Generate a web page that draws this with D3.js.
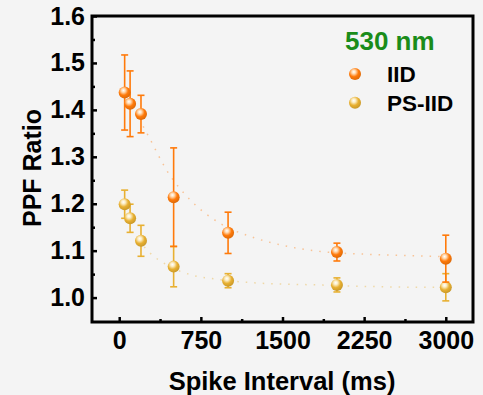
<!DOCTYPE html>
<html>
<head>
<meta charset="utf-8">
<script src="https://cdn.jsdelivr.net/npm/d3@7"></script>
<style>
  body { margin: 0; background: #f4f4f4; }
  svg { display: block; font-family: "Liberation Sans", Arial, sans-serif; font-weight: bold; }
</style>
</head>
<body>
<svg id="chart" width="483" height="395"></svg>
<script>
// data
const intervals = [50, 100, 200, 500, 1000, 2000, 3000]
const iid = [1.437, 1.413, 1.391, 1.214, 1.138, 1.097, 1.083]
const iidErr = [0.08, 0.07, 0.04, 0.105, 0.044, 0.019, 0.05]
const psiid = [1.199, 1.169, 1.121, 1.066, 1.036, 1.027, 1.022]
const psiidErr = [0.03, 0.03, 0.033, 0.043, 0.015, 0.015, 0.029]
// fitted decay curves (traced)
const iidFitX = [220, 255, 453, 653, 928, 1233, 1510, 1817, 2430, 2858, 3000]
const iidFitY = [1.365, 1.35, 1.265, 1.208, 1.158, 1.128, 1.111, 1.099, 1.091, 1.088, 1.087]
const psFitX = [230, 270, 450, 668, 900, 1205, 1817, 2430, 2858, 3000]
const psFitY = [1.108, 1.098, 1.068, 1.048, 1.039, 1.032, 1.027, 1.023, 1.022, 1.022]
const xTicks = [0, 750, 1500, 2250, 3000]
const yTicks = [1.0, 1.1, 1.2, 1.3, 1.4, 1.5, 1.6]

const series = [
  { name: 'IID', y: iid, err: iidErr, fx: iidFitX, fy: iidFitY, color: '#ff7a0a', light: '#ffd9b0', grad: 'gIID' },
  { name: 'PS-IID', y: psiid, err: psiidErr, fx: psFitX, fy: psFitY, color: '#e8b031', light: '#fbecc2', grad: 'gPS' }
]

var margin = ({top: 16, right: 10, bottom: 73, left: 92})
var width = 483, height = 395

const svg = d3.select('#chart')

const x = d3.scaleLinear().domain([-250, 3250]).range([margin.left, width - margin.right])
const y = d3.scaleLinear().domain([0.948, 1.6]).range([height - margin.bottom, margin.top])

// sphere-like gradients
const defs = svg.append('defs')
series.forEach(s => {
  const g = defs.append('radialGradient').attr('id', s.grad)
    .attr('cx', '40%').attr('cy', '35%').attr('r', '65%').attr('fx', '40%').attr('fy', '32%')
  g.append('stop').attr('offset', '0%').attr('stop-color', '#ffffff')
  g.append('stop').attr('offset', '25%').attr('stop-color', s.light)
  g.append('stop').attr('offset', '60%').attr('stop-color', s.color)
  g.append('stop').attr('offset', '100%').attr('stop-color', d3.color(s.color).darker(0.4))
})

// fit lines
const line = d3.line().curve(d3.curveMonotoneX)
series.forEach(s => {
  svg.append('path')
    .attr('d', line(s.fx.map((v, i) => [x(v), y(s.fy[i])])))
    .style('fill', 'none')
    .style('stroke', s.color)
    .style('stroke-opacity', 0.4)
    .style('stroke-width', 1.5)
    .style('stroke-dasharray', '1.5,7')
})

// error bars and points
series.slice().reverse().forEach(s => {
  const g = svg.append('g')
  intervals.forEach((v, i) => {
    const cx = x(v), top = y(s.y[i] + s.err[i]), bot = y(s.y[i] - s.err[i])
    g.append('line').attr('x1', cx).attr('x2', cx).attr('y1', top).attr('y2', bot)
      .style('stroke', s.color).style('stroke-width', 1.6)
    ;[top, bot].forEach(yy => g.append('line')
      .attr('x1', cx - 3.5).attr('x2', cx + 3.5).attr('y1', yy).attr('y2', yy)
      .style('stroke', s.color).style('stroke-width', 1.6))
  })
  g.selectAll('circle').data(s.y).enter().append('circle')
    .attr('cx', (d, i) => x(intervals[i]))
    .attr('cy', d => y(d))
    .attr('r', 6)
    .style('fill', `url(#${s.grad})`)
})

// axes (ticks point inward)
const xAxis = g => g
  .attr('transform', `translate(0,${height - margin.bottom})`)
  .call(d3.axisBottom(x).tickValues(xTicks).tickSize(-5).tickPadding(9).tickFormat(d3.format('d')))
const xMinor = g => g
  .attr('transform', `translate(0,${height - margin.bottom})`)
  .call(d3.axisBottom(x).tickValues([375, 1125, 1875, 2625]).tickSize(-3).tickFormat(''))
const yAxis = g => g
  .attr('transform', `translate(${margin.left},0)`)
  .call(d3.axisLeft(y).tickValues(yTicks).tickSize(-5).tickPadding(7).tickFormat(d3.format('.1f')))
const yMinor = g => g
  .attr('transform', `translate(${margin.left},0)`)
  .call(d3.axisLeft(y).tickValues([1.05, 1.15, 1.25, 1.35, 1.45, 1.55]).tickSize(-3).tickFormat(''))

;[xAxis, xMinor, yAxis, yMinor].forEach(a => {
  const g = svg.append('g').call(a)
  g.select('.domain').remove()
  g.selectAll('.tick line').style('stroke', '#000').style('stroke-width', 2.5)
  g.selectAll('.tick text').style('font-size', '25px').style('font-weight', 'bold')
    .style('font-family', '"Liberation Sans", Arial, sans-serif').style('fill', '#000')
})

// frame
svg.append('rect')
  .attr('x', margin.left).attr('y', margin.top)
  .attr('width', width - margin.right - margin.left)
  .attr('height', height - margin.bottom - margin.top)
  .style('fill', 'none').style('stroke', '#000').style('stroke-width', 3)

// titles
svg.append('text')
  .attr('transform', `translate(41,168) rotate(-90)`)
  .attr('text-anchor', 'middle')
  .style('font-size', '25px')
  .text('PPF Ratio')

svg.append('text')
  .attr('x', 282)
  .attr('y', 390)
  .attr('text-anchor', 'middle')
  .style('font-size', '25.5px')
  .text('Spike Interval (ms)')

// legend
svg.append('text')
  .attr('x', 345).attr('y', 50)
  .style('font-size', '26px').style('fill', '#1a8c1a')
  .text('530 nm')

series.forEach((s, i) => {
  svg.append('circle').attr('cx', 355).attr('cy', 74 + i * 28.7).attr('r', 6)
    .style('fill', `url(#${s.grad})`)
  svg.append('text').attr('x', 387).attr('y', 82 + i * 28.7)
    .style('font-size', '22.5px').text(s.name)
})
</script>
</body>
</html>
